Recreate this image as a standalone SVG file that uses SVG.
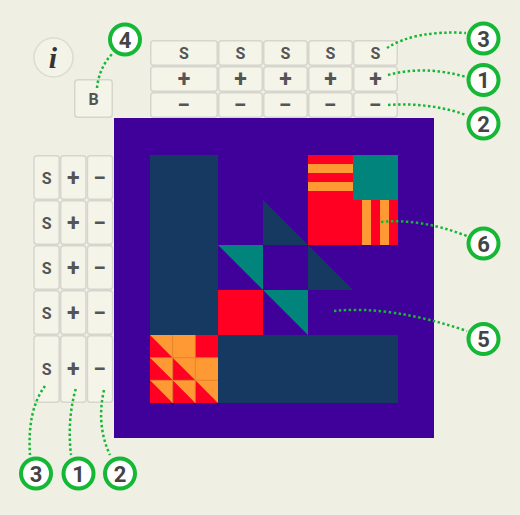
<svg xmlns="http://www.w3.org/2000/svg" width="520" height="515" viewBox="0 0 520 515">
<style>
.btn{fill:#f4f4e8;stroke:#d6d6ce;stroke-width:1.5}
.bt{font-family:Roboto,"Liberation Sans",sans-serif;font-weight:bold;fill:#555;text-anchor:middle}
.s{font-size:16px}
.p{font-size:23px}
.co{fill:none;stroke:#14b834;stroke-width:2.5;stroke-dasharray:2.5 2.5}
.cc{fill:#fff;stroke:#14b834;stroke-width:4}
.ct{font-family:Roboto,"Liberation Sans",sans-serif;font-weight:bold;font-size:22px;fill:#444;text-anchor:middle}
.nv{fill:#163961}.tl{fill:#00847c}.rd{fill:#ff0022}.or{fill:#ff9933}
.sg{stroke:#dc7d2c;stroke-width:0.8;fill:none}
</style>
<rect width="520" height="515" fill="#efefe3"/>
<g id="info">
<circle cx="53.5" cy="57.5" r="19.5" fill="#f3f3e7" stroke="#dcdcd3" stroke-width="1.5"/>
<text x="53" y="68" font-family="'Liberation Serif',serif" font-style="italic" font-weight="bold" font-size="30" fill="#333" text-anchor="middle">i</text>
</g>
<g id="btn-b">
<rect class="btn" x="74.75" y="79.75" width="37.5" height="37.5" rx="3"/>
<text class="bt s" x="93.5" y="104.5">B</text>
</g>
<g id="top-buttons">
<rect class="btn" x="150.75" y="40.75" width="66.5" height="24.5" rx="3"/>
<rect class="btn" x="218.75" y="40.75" width="43.5" height="24.5" rx="3"/>
<rect class="btn" x="263.75" y="40.75" width="43.5" height="24.5" rx="3"/>
<rect class="btn" x="308.75" y="40.75" width="43.5" height="24.5" rx="3"/>
<rect class="btn" x="353.75" y="40.75" width="43.5" height="24.5" rx="3"/>
<rect class="btn" x="150.75" y="66.75" width="66.5" height="24.5" rx="3"/>
<rect class="btn" x="218.75" y="66.75" width="43.5" height="24.5" rx="3"/>
<rect class="btn" x="263.75" y="66.75" width="43.5" height="24.5" rx="3"/>
<rect class="btn" x="308.75" y="66.75" width="43.5" height="24.5" rx="3"/>
<rect class="btn" x="353.75" y="66.75" width="43.5" height="24.5" rx="3"/>
<rect class="btn" x="150.75" y="92.75" width="66.5" height="24.5" rx="3"/>
<rect class="btn" x="218.75" y="92.75" width="43.5" height="24.5" rx="3"/>
<rect class="btn" x="263.75" y="92.75" width="43.5" height="24.5" rx="3"/>
<rect class="btn" x="308.75" y="92.75" width="43.5" height="24.5" rx="3"/>
<rect class="btn" x="353.75" y="92.75" width="43.5" height="24.5" rx="3"/>
<text class="bt s" x="184" y="59">S</text>
<text class="bt s" x="240.5" y="59">S</text>
<text class="bt s" x="285.5" y="59">S</text>
<text class="bt s" x="330.5" y="59">S</text>
<text class="bt s" x="375.5" y="59">S</text>
<text class="bt p" x="184" y="87">+</text>
<text class="bt p" x="240.5" y="87">+</text>
<text class="bt p" x="285.5" y="87">+</text>
<text class="bt p" x="330.5" y="87">+</text>
<text class="bt p" x="375.5" y="87">+</text>
<text class="bt p" x="184" y="113">−</text>
<text class="bt p" x="240.5" y="113">−</text>
<text class="bt p" x="285.5" y="113">−</text>
<text class="bt p" x="330.5" y="113">−</text>
<text class="bt p" x="375.5" y="113">−</text>
</g>
<g id="left-buttons">
<rect class="btn" x="34" y="155.75" width="25.2" height="43.5" rx="3"/>
<rect class="btn" x="60.7" y="155.75" width="25.2" height="43.5" rx="3"/>
<rect class="btn" x="87.4" y="155.75" width="25.2" height="43.5" rx="3"/>
<rect class="btn" x="34" y="200.75" width="25.2" height="43.5" rx="3"/>
<rect class="btn" x="60.7" y="200.75" width="25.2" height="43.5" rx="3"/>
<rect class="btn" x="87.4" y="200.75" width="25.2" height="43.5" rx="3"/>
<rect class="btn" x="34" y="245.75" width="25.2" height="43.5" rx="3"/>
<rect class="btn" x="60.7" y="245.75" width="25.2" height="43.5" rx="3"/>
<rect class="btn" x="87.4" y="245.75" width="25.2" height="43.5" rx="3"/>
<rect class="btn" x="34" y="290.75" width="25.2" height="43.5" rx="3"/>
<rect class="btn" x="60.7" y="290.75" width="25.2" height="43.5" rx="3"/>
<rect class="btn" x="87.4" y="290.75" width="25.2" height="43.5" rx="3"/>
<rect class="btn" x="34" y="335.75" width="25.2" height="66.5" rx="3"/>
<rect class="btn" x="60.7" y="335.75" width="25.2" height="66.5" rx="3"/>
<rect class="btn" x="87.4" y="335.75" width="25.2" height="66.5" rx="3"/>
<text class="bt s" x="46.6" y="183.5">S</text>
<text class="bt s" x="46.6" y="228.5">S</text>
<text class="bt s" x="46.6" y="273.5">S</text>
<text class="bt s" x="46.6" y="318.5">S</text>
<text class="bt s" x="46.6" y="375">S</text>
<text class="bt p" x="73.3" y="185.5">+</text>
<text class="bt p" x="73.3" y="230.5">+</text>
<text class="bt p" x="73.3" y="275.5">+</text>
<text class="bt p" x="73.3" y="320.5">+</text>
<text class="bt p" x="73.3" y="377">+</text>
<text class="bt p" x="100" y="185.5">−</text>
<text class="bt p" x="100" y="230.5">−</text>
<text class="bt p" x="100" y="275.5">−</text>
<text class="bt p" x="100" y="320.5">−</text>
<text class="bt p" x="100" y="377">−</text>
</g>
<g id="canvas">
<rect x="114" y="118" width="320" height="320" fill="#40009a"/>
<rect class="nv" x="150" y="155" width="68" height="180"/>
<rect class="nv" x="218" y="335" width="180" height="68"/>
<polygon class="nv" points="263,200 263,245 308,245"/>
<polygon class="tl" points="218,245 263,245 263,290"/>
<polygon class="nv" points="308,245 308,290 353,290"/>
<rect class="rd" x="218" y="290" width="45" height="45"/>
<polygon class="tl" points="263,290 308,290 308,335"/>
<rect class="rd" x="308" y="155" width="90" height="90"/>
<rect class="or" x="308" y="164" width="45" height="9"/>
<rect class="or" x="308" y="182" width="45" height="9"/>
<rect class="tl" x="353" y="155" width="45" height="45"/>
<rect class="or" x="362" y="200" width="9" height="45"/>
<rect class="or" x="380" y="200" width="9" height="45"/>
<g id="quilt">
<rect class="or" x="150" y="335" width="68" height="68"/>
<polygon class="rd" points="150,335 150,357.7 172.7,357.7"/>
<rect class="rd" x="195.3" y="335" width="22.7" height="22.7"/>
<polygon class="rd" points="150,357.7 150,380.3 172.7,380.3"/>
<polygon class="rd" points="172.7,357.7 172.7,380.3 195.3,380.3"/>
<polygon class="rd" points="150,380.3 150,403 172.7,403"/>
<polygon class="rd" points="172.7,380.3 172.7,403 195.3,403"/>
<polygon class="rd" points="195.3,380.3 195.3,403 218,403"/>
<path class="sg" d="M172.7,335V403M195.3,335V403M150,357.7H218M150,380.3H218"/>
</g>
</g>
<g id="connectors">
<path class="co" d="M97,88 Q99,68 112,54"/>
<path class="co" d="M387,48 Q415,30 466,33"/>
<path class="co" d="M388,75 Q425,65 466,77"/>
<path class="co" d="M388,105 Q430,102 466,115"/>
<path class="co" d="M381,222 Q420,218 467,236"/>
<path class="co" d="M334,311 Q390,305 467,331"/>
<path class="co" d="M45,386 Q27,410 30,455"/>
<path class="co" d="M75.7,389 Q67,420 71,455"/>
<path class="co" d="M104,390 Q96,425 110,455"/>
</g>
<g id="callout-4"><circle class="cc" cx="125" cy="39.5" r="15"/><text class="ct" x="125" y="47.5">4</text></g>
<g id="callout-3-top"><circle class="cc" cx="483.5" cy="38.5" r="15"/><text class="ct" x="483.5" y="46.5">3</text></g>
<g id="callout-1-top"><circle class="cc" cx="483.5" cy="80" r="15"/><text class="ct" x="483.5" y="88">1</text></g>
<g id="callout-2-top"><circle class="cc" cx="483.5" cy="123.5" r="15"/><text class="ct" x="483.5" y="131.5">2</text></g>
<g id="callout-6"><circle class="cc" cx="483.5" cy="243.5" r="15"/><text class="ct" x="483.5" y="251.5">6</text></g>
<g id="callout-5"><circle class="cc" cx="483.5" cy="339" r="15"/><text class="ct" x="483.5" y="347">5</text></g>
<g id="callout-3-bottom"><circle class="cc" cx="36" cy="473.5" r="15"/><text class="ct" x="36" y="481.5">3</text></g>
<g id="callout-1-bottom"><circle class="cc" cx="78.5" cy="473.5" r="15"/><text class="ct" x="78.5" y="481.5">1</text></g>
<g id="callout-2-bottom"><circle class="cc" cx="120" cy="473.5" r="15"/><text class="ct" x="120" y="481.5">2</text></g>
</svg>
